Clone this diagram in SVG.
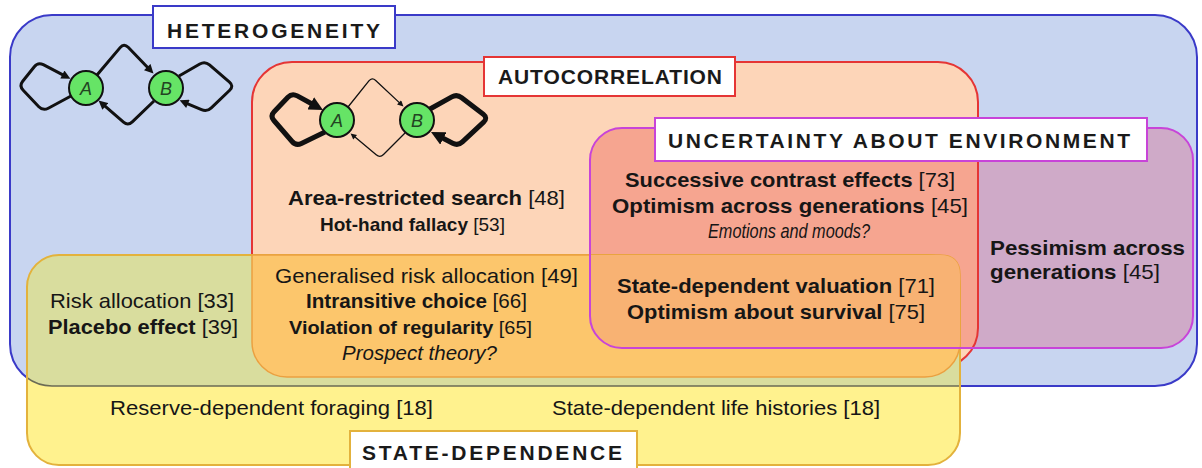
<svg xmlns="http://www.w3.org/2000/svg" width="1202" height="468" viewBox="0 0 1202 468">
<style>
text{font-family:"Liberation Sans",Arial,sans-serif;fill:#161616}
.t{font-size:21px;text-anchor:middle}
.l{font-size:21px;text-anchor:start}
.s{font-size:19px}
.b{font-weight:bold}
.r{font-weight:normal}
.i{font-style:italic}
.h{font-size:21px;font-weight:bold;text-anchor:middle;fill:#1a1a1a}
.lab{fill:#ffffff;stroke-width:2}
.node{fill:#66e466;stroke:#111;stroke-width:2}
.nl{font-size:18px;font-style:italic;text-anchor:middle;fill:#234423}
.e3{fill:none;stroke:#111;stroke-width:3;marker-end:url(#ah)}
.e5{fill:none;stroke:#111;stroke-width:5;marker-end:url(#ak)}
.e1{fill:none;stroke:#111;stroke-width:1.3;marker-end:url(#an)}
</style>
<defs>
<clipPath id="cpP"><rect x="590" y="128" width="603" height="220" rx="32"/></clipPath>
<clipPath id="cpY"><rect x="27" y="255" width="933" height="210" rx="32"/></clipPath>
<marker id="ah" viewBox="0 0 10 10" refX="3" refY="5" markerWidth="10" markerHeight="9" markerUnits="userSpaceOnUse" orient="auto"><path d="M0,0 L10,5 L0,10 z" fill="#111"/></marker>
<marker id="ak" viewBox="0 0 10 10" refX="3" refY="5" markerWidth="14" markerHeight="14" markerUnits="userSpaceOnUse" orient="auto"><path d="M0,0 L10,5 L0,10 z" fill="#111"/></marker>
<marker id="an" viewBox="0 0 10 10" refX="3" refY="5" markerWidth="7" markerHeight="6" markerUnits="userSpaceOnUse" orient="auto"><path d="M0,0 L10,5 L0,10 z" fill="#111"/></marker>
</defs>
<rect width="1202" height="468" fill="#ffffff"/>

<g id="heterogeneity">
<rect x="10" y="15" width="1187" height="371" rx="42" fill="#c8d5f0" stroke="#3a3ac8" stroke-width="2"/>
</g>
<g id="autocorrelation">
<rect x="252" y="62" width="726" height="306" rx="40" fill="#fdd5b8"/>
</g>
<g id="uncertainty">
<rect x="590" y="128" width="603" height="220" rx="32" fill="#cfaac8"/>
<rect x="252" y="62" width="726" height="306" rx="40" fill="#f6a590" clip-path="url(#cpP)"/>
</g>
<rect x="252" y="62" width="726" height="306" rx="40" fill="none" stroke="#e53535" stroke-width="2"/>
<g id="state-dependence">
<rect x="27" y="255" width="933" height="210" rx="32" fill="#fff28e"/>
<rect x="10" y="15" width="1187" height="371" rx="42" fill="#d9dd9e" stroke="#6b6b55" stroke-width="1.5" clip-path="url(#cpY)"/>
<rect x="27" y="255" width="933" height="210" rx="32" fill="none" stroke="#e3b23c" stroke-width="2"/>
<path d="M252,255 H940 Q960,255 960,275 V342 A35,35 0 0 1 925,377 H287 A35,35 0 0 1 252,342 Z" fill="#fcc66c" stroke="#eba040" stroke-width="1.5"/>
<path d="M252,255 H940 Q960,255 960,275 V342 A35,35 0 0 1 925,377 H287 A35,35 0 0 1 252,342 Z" fill="#f8b273" clip-path="url(#cpP)"/>
</g>
<rect x="590" y="128" width="603" height="220" rx="32" fill="none" stroke="#c844d8" stroke-width="2"/>

<g id="labels">
<rect class="lab" x="153" y="6" width="242" height="42" stroke="#3a3ac8"/>
<text class="h" x="273.5" y="38" textLength="213" lengthAdjust="spacing">HETEROGENEITY</text>
<rect class="lab" x="484" y="57" width="251" height="39" stroke="#e53535"/>
<text class="h" x="610" y="84" textLength="224" lengthAdjust="spacing">AUTOCORRELATION</text>
<rect class="lab" x="655" y="118" width="492" height="43" stroke="#c844d8"/>
<text class="h" x="899" y="148" textLength="462" lengthAdjust="spacing">UNCERTAINTY ABOUT ENVIRONMENT</text>
<rect class="lab" x="350" y="431" width="287" height="40" stroke="#e3b23c"/>
<text class="h" x="492" y="460" textLength="260" lengthAdjust="spacing">STATE-DEPENDENCE</text>
</g>

<g id="texts">
<text class="t b" x="426.5" y="205" textLength="277" lengthAdjust="spacingAndGlyphs">Area-restricted search<tspan class="r"> [48]</tspan></text>
<text class="t b s" x="412.5" y="231" textLength="185" lengthAdjust="spacingAndGlyphs">Hot-hand fallacy<tspan class="r"> [53]</tspan></text>
<text class="t b" x="790" y="187" textLength="330" lengthAdjust="spacingAndGlyphs">Successive contrast effects<tspan class="r"> [73]</tspan></text>
<text class="t b" x="790" y="213" textLength="356" lengthAdjust="spacingAndGlyphs">Optimism across generations<tspan class="r"> [45]</tspan></text>
<text class="t i" x="789" y="238" textLength="162" lengthAdjust="spacingAndGlyphs">Emotions and moods?</text>
<text class="l b" x="990" y="255" textLength="195" lengthAdjust="spacingAndGlyphs">Pessimism across</text>
<text class="l b" x="990" y="279" textLength="170" lengthAdjust="spacingAndGlyphs">generations<tspan class="r"> [45]</tspan></text>
<text class="t b" x="776" y="293" textLength="318" lengthAdjust="spacingAndGlyphs">State-dependent valuation<tspan class="r"> [71]</tspan></text>
<text class="t b" x="776" y="319" textLength="298" lengthAdjust="spacingAndGlyphs">Optimism about survival<tspan class="r"> [75]</tspan></text>
<text class="t" x="426.5" y="283" textLength="303" lengthAdjust="spacingAndGlyphs">Generalised risk allocation [49]</text>
<text class="t b" x="416.5" y="308" textLength="221" lengthAdjust="spacingAndGlyphs">Intransitive choice<tspan class="r"> [66]</tspan></text>
<text class="t b s" x="410.5" y="334" textLength="243" lengthAdjust="spacingAndGlyphs">Violation of regularity<tspan class="r"> [65]</tspan></text>
<text class="t i" x="419.5" y="360" textLength="155" lengthAdjust="spacingAndGlyphs">Prospect theory?</text>
<text class="t" x="142" y="308" textLength="184" lengthAdjust="spacingAndGlyphs">Risk allocation [33]</text>
<text class="t b" x="143" y="334" textLength="190" lengthAdjust="spacingAndGlyphs">Placebo effect<tspan class="r"> [39]</tspan></text>
<text class="t" x="271.5" y="415" textLength="323" lengthAdjust="spacingAndGlyphs">Reserve-dependent foraging [18]</text>
<text class="t" x="716" y="415" textLength="328" lengthAdjust="spacingAndGlyphs">State-dependent life histories [18]</text>
</g>

<g id="connectors">
<path class="e3" d="M71,96 L48.3,108.2 Q43,111 38.8,106.7 L23.2,90.3 Q19,86 22.7,81.3 L34.3,66.7 Q38,62 43.3,64.7 L64.8,75.8"/>
<path class="e3" d="M97,75 L120.1,47.6 Q124,43 128.2,47.3 L149.1,69"/>
<path class="e3" d="M154,101 L132.3,121.8 Q128,126 123.5,122.1 L103.3,104.6"/>
<path class="e3" d="M179,76 L199.8,64 Q205,61 209.5,64.9 L229.5,82.1 Q234,86 229.7,90.2 L211.3,107.8 Q207,112 201.5,109.6 L185.4,102.8"/>
<path class="e5" d="M325,132 L301.4,143.4 Q296,146 292.1,141.5 L273.9,120.5 Q270,116 274.1,111.7 L287.9,97.3 Q292,93 297.3,95.9 L314.4,105.3"/>
<path class="e1" d="M348,107 L368.9,80.9 Q372,77 375.7,80.4 L400.4,103.6"/>
<path class="e1" d="M405,133 L383.5,154.5 Q380,158 376.2,154.8 L353.8,136.1"/>
<path class="e5" d="M430,109 L451.8,96.9 Q457,94 461.7,97.7 L483.3,114.3 Q488,118 483.6,122.1 L462.4,141.9 Q458,146 452.7,143.2 L439.7,136.5"/>
</g>

<g id="node-het-A"><circle class="node" cx="86" cy="88" r="17"/><text class="nl" x="86" y="94.5">A</text></g>
<g id="node-het-B"><circle class="node" cx="166" cy="88" r="17"/><text class="nl" x="166" y="94.5">B</text></g>
<g id="node-auto-A"><circle class="node" cx="337" cy="120" r="17"/><text class="nl" x="337" y="126.5">A</text></g>
<g id="node-auto-B"><circle class="node" cx="417" cy="120" r="17"/><text class="nl" x="417" y="126.5">B</text></g>
</svg>
